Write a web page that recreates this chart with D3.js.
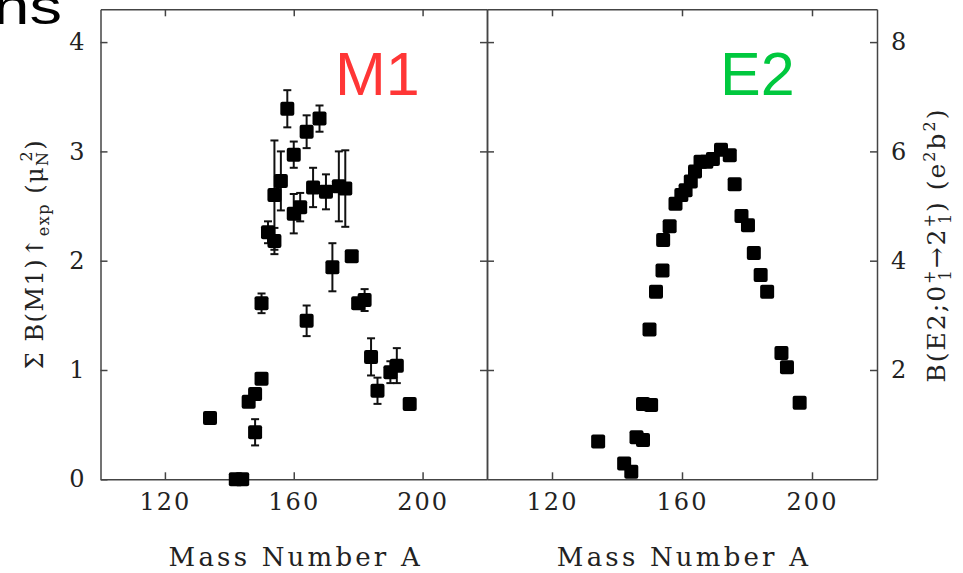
<!DOCTYPE html>
<html lang="en">
<head>
<meta charset="utf-8">
<title>M1 / E2 strength vs mass number</title>
<script src="https://cdnjs.cloudflare.com/ajax/libs/d3/7.8.5/d3.min.js"></script>
<style>
  html, body { margin: 0; padding: 0; background: #fff; }
  svg { display: block; }
  .axis path, .axis line { stroke: #444; stroke-width: 1.5; }
  .axis text { font-family: "DejaVu Serif", serif; font-size: 24px; fill: #222; letter-spacing: 2px; }
  .title { font-family: "DejaVu Serif", serif; fill: #222; }
</style>
</head>
<body>
<div id="chart"></div>
<script>
// ---- data ----
// left panel: summed M1 strength, mass number / value / error
const m1Mass = [134, 142, 144, 146, 148, 150, 148, 150, 152, 154, 154, 156, 158, 160, 160, 162,
                164, 164, 166, 168, 170, 172, 174, 176, 178, 180, 182, 184, 186, 190, 192, 196];
const m1Value = [0.56, 0.0, 0.0, 0.71, 0.78, 0.92, 0.43, 1.61, 2.26, 2.18, 2.60, 2.73, 3.39, 2.97, 2.43, 2.49,
                 3.18, 1.45, 2.67, 3.30, 2.63, 1.94, 2.68, 2.66, 2.04, 1.61, 1.64, 1.12, 0.81, 0.98, 1.04, 0.69];
const m1Error = [0, 0, 0, 0, 0, 0, 0.12, 0.09, 0.10, 0.12, 0.50, 0.27, 0.17, 0.12, 0.18, 0.13,
                 0.15, 0.14, 0.18, 0.12, 0.16, 0.22, 0.32, 0.35, 0, 0, 0.10, 0.17, 0.12, 0.10, 0.16, 0];

// right panel: B(E2; 0+ -> 2+)
const e2Mass = [134.2, 142.2, 144.4, 146, 148, 148, 150.5, 150, 152, 154, 154.2, 156.2, 158, 159.8, 161.1, 162.7,
                164, 165.7, 167.5, 169.5, 172, 174.7, 176.2, 178.3, 180.3, 182.1, 184.2, 186.2, 190.6, 192.3, 196.2];
const e2Value = [0.69, 0.29, 0.14, 0.77, 0.72, 1.38, 1.36, 2.74, 3.43, 3.82, 4.38, 4.63, 5.04, 5.20, 5.29, 5.45,
                 5.63, 5.81, 5.81, 5.86, 6.03, 5.93, 5.40, 4.82, 4.65, 4.14, 3.74, 3.43, 2.31, 2.05, 1.40];

const xTicks = [120, 160, 200];
const m1Ticks = [0, 1, 2, 3, 4];
const e2Ticks = [2, 4, 6, 8];

// ---- layout ----
const W = 963, H = 573;
const plotTop = 9.3, plotBottom = 479.3;
const leftX = [100.5, 487], rightX = [487, 877];

const svg = d3.select("#chart").append("svg")
  .attr("width", W).attr("height", H);

const xL = d3.scaleLinear().domain([100, 220]).range(leftX);
const xR = d3.scaleLinear().domain([100, 220]).range(rightX);
const yL = d3.scaleLinear().domain([0, 4.3]).range([plotBottom, plotTop]);
const yR = d3.scaleLinear().domain([0, 8.6]).range([plotBottom, plotTop]);

const tick = -7;

// left panel axes
svg.append("g").attr("class", "axis").attr("transform", `translate(${leftX[0]},0)`)
  .call(d3.axisLeft(yL).tickValues(m1Ticks).tickSize(tick).tickSizeOuter(0).tickPadding(14).tickFormat(d3.format("d")));
svg.append("g").attr("class", "axis").attr("transform", `translate(0,${plotBottom})`)
  .call(d3.axisBottom(xL).tickValues(xTicks).tickSize(tick).tickSizeOuter(0).tickPadding(14));
svg.append("g").attr("class", "axis").attr("transform", `translate(0,${plotTop})`)
  .call(d3.axisTop(xL).tickValues(xTicks).tickSize(tick).tickSizeOuter(0).tickFormat(""));
svg.append("g").attr("class", "axis").attr("transform", `translate(${leftX[1]},0)`)
  .call(d3.axisRight(yL).tickValues([1, 2, 3, 4]).tickSize(tick).tickSizeOuter(0).tickFormat(""));

// right panel axes
svg.append("g").attr("class", "axis").attr("transform", `translate(${rightX[0]},0)`)
  .call(d3.axisLeft(yR).tickValues(e2Ticks).tickSize(tick).tickSizeOuter(0).tickFormat(""));
svg.append("g").attr("class", "axis").attr("transform", `translate(0,${plotBottom})`)
  .call(d3.axisBottom(xR).tickValues(xTicks).tickSize(tick).tickSizeOuter(0).tickPadding(14));
svg.append("g").attr("class", "axis").attr("transform", `translate(0,${plotTop})`)
  .call(d3.axisTop(xR).tickValues(xTicks).tickSize(tick).tickSizeOuter(0).tickFormat(""));
svg.append("g").attr("class", "axis").attr("transform", `translate(${rightX[1]},0)`)
  .call(d3.axisRight(yR).tickValues(e2Ticks).tickSize(tick).tickSizeOuter(0).tickPadding(14).tickFormat(d3.format("d")));

// ---- M1 points ----
const m1 = m1Mass.map((a, i) => ({a: a, v: m1Value[i], e: m1Error[i]}));
const eb = svg.append("g").attr("stroke", "#111").attr("stroke-width", 2);
m1.filter(d => d.e > 0).forEach(d => {
  const x = xL(d.a), y0 = yL(d.v - d.e), y1 = yL(d.v + d.e);
  eb.append("line").attr("x1", x).attr("x2", x).attr("y1", y0).attr("y2", y1);
  eb.append("line").attr("x1", x - 4).attr("x2", x + 4).attr("y1", y0).attr("y2", y0);
  eb.append("line").attr("x1", x - 4).attr("x2", x + 4).attr("y1", y1).attr("y2", y1);
});

const sq = 14;
svg.append("g").selectAll("rect").data(m1).join("rect")
  .attr("x", d => xL(d.a) - sq / 2).attr("y", d => yL(d.v) - sq / 2)
  .attr("width", sq).attr("height", sq).attr("rx", 2).attr("fill", "#000");

// ---- E2 points ----
const e2 = e2Mass.map((a, i) => ({a: a, v: e2Value[i]}));
svg.append("g").selectAll("rect").data(e2).join("rect")
  .attr("x", d => xR(d.a) - sq / 2).attr("y", d => yR(d.v) - sq / 2)
  .attr("width", sq).attr("height", sq).attr("rx", 2).attr("fill", "#000");

// ---- axis titles ----
svg.append("text").attr("class", "title")
  .attr("x", xL(160) + 2).attr("y", 566).attr("text-anchor", "middle")
  .attr("font-size", 26).attr("letter-spacing", 3.2).text("Mass Number A");
svg.append("text").attr("class", "title")
  .attr("x", xR(160) + 2).attr("y", 566).attr("text-anchor", "middle")
  .attr("font-size", 26).attr("letter-spacing", 3.2).text("Mass Number A");

// left y title
const tl = svg.append("text").attr("class", "title")
  .attr("transform", "translate(43,254) rotate(-90)")
  .attr("text-anchor", "middle").attr("font-size", 24).attr("letter-spacing", 1.5);
tl.append("tspan").text("Σ  B(M1)↑");
tl.append("tspan").attr("dy", 6).attr("font-size", 16).text("exp");
tl.append("tspan").attr("dy", -6).text("  (μ");
tl.append("tspan").attr("dy", 5).attr("font-size", 16).text("N");
tl.append("tspan").attr("dx", -11).attr("dy", -16).attr("font-size", 16).text("2");
tl.append("tspan").attr("dy", 11).text(")");

// right y title
const tr = svg.append("text").attr("class", "title")
  .attr("transform", "translate(945,245) rotate(-90)")
  .attr("text-anchor", "middle").attr("font-size", 25).attr("letter-spacing", 2);
tr.append("tspan").text("B(E2;0");
tr.append("tspan").attr("dy", -10).attr("font-size", 16).text("+");
tr.append("tspan").attr("dx", -12).attr("dy", 16).attr("font-size", 16).text("1");
tr.append("tspan").attr("dy", -6).text("→2");
tr.append("tspan").attr("dy", -10).attr("font-size", 16).text("+");
tr.append("tspan").attr("dx", -12).attr("dy", 16).attr("font-size", 16).text("1");
tr.append("tspan").attr("dy", -6).text(")  (e");
tr.append("tspan").attr("dy", -10).attr("font-size", 16).text("2");
tr.append("tspan").attr("dy", 10).text("b");
tr.append("tspan").attr("dy", -10).attr("font-size", 16).text("2");
tr.append("tspan").attr("dy", 10).text(")");

// ---- annotations ----
svg.append("text").attr("x", 335).attr("y", 95)
  .attr("font-family", "Liberation Sans, Arial, sans-serif").attr("font-size", 61)
  .attr("fill", "#ff3636").text("M1");
svg.append("text").attr("x", 720).attr("y", 95)
  .attr("font-family", "Liberation Sans, Arial, sans-serif").attr("font-size", 61)
  .attr("fill", "#00c83e").text("E2");

// slide title fragment cut at the top-left corner
svg.append("text").attr("transform", "translate(62,24) scale(1.3,1)").attr("text-anchor", "end")
  .attr("font-family", "Liberation Sans, Arial, sans-serif").attr("font-size", 50)
  .attr("fill", "#000").text("ns");
</script>
</body>
</html>
